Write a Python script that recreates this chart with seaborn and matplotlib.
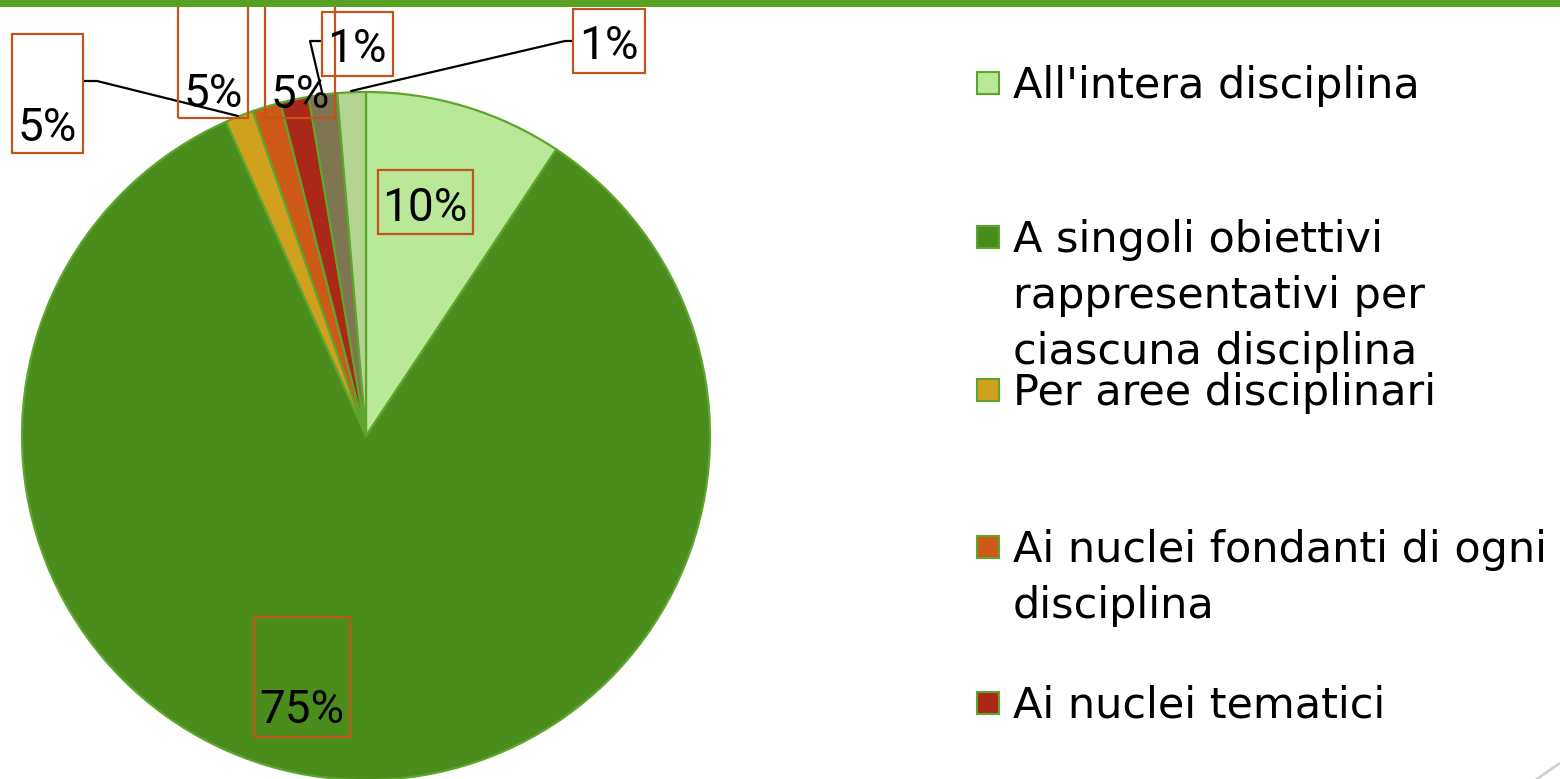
import matplotlib
matplotlib.use("Agg")
import matplotlib.pyplot as plt
from matplotlib.patches import Rectangle
from matplotlib.lines import Line2D
import seaborn as sns

# ---- data ----
categories = [
    "All'intera disciplina",
    "A singoli obiettivi\nrappresentativi per\nciascuna disciplina",
    "Per aree disciplinari",
    "Ai nuclei fondanti di ogni\ndisciplina",
    "Ai nuclei tematici",
    "",
    "",
]
values = [7, 63, 1, 1, 1, 1, 1]
pct_labels = ["10%", "75%", "5%", "5%", "5%", "1%", "1%"]
legend_count = 5  # entries visible in the (cropped) legend

# ---- style ----
sns.set_theme(style="white")
plt.rcParams['font.family'] = ['DejaVu Sans']
colors = sns.color_palette(["#B9E898", "#4B8D1D", "#CFA11C", "#CF5916",
                            "#AB2819", "#7F7550", "#B4D592"])
edge_col = "#5EA52E"
box_col = "#C0561E"

W, H = 1560, 779
fig = plt.figure(figsize=(W / 100, H / 100), dpi=100)

# pie geometry in pixels
cx, cy, R = 366, 436, 344
ax = fig.add_axes([(cx - R) / W, (H - (cy + R)) / H, 2 * R / W, 2 * R / H])
ax.pie(values, colors=colors, startangle=90, counterclock=False, radius=1,
       wedgeprops=dict(edgecolor=edge_col, linewidth=1.6))
ax.set_xlim(-1, 1)
ax.set_ylim(-1, 1)
ax.set_aspect("auto")
ax.axis("off")


def p2d(px, py):
    return (px - cx) / R, (cy - py) / R


# label boxes (pixel layout): x0, x1, y0, y1, text x, text baseline y
label_layout = [
    (378, 473, 170, 234, 425, 221),
    (254, 350, 617, 737, 302, 723),
    (12, 83, 34, 153, 47, 141),
    (178, 248, -5, 118, 213, 107),
    (265, 335, -5, 118, 300, 108),
    (322, 393, 12, 76, 357, 62),
    (573, 645, 9, 73, 609, 59),
]
label_font = ['Roboto', 'DejaVu Sans']
for lab, (x0, x1, y0, y1, tx, ty) in zip(pct_labels, label_layout):
    dx0, dy1 = p2d(x0, y1)
    dx1, dy0 = p2d(x1, y0)
    ax.add_patch(Rectangle((dx0, dy1), dx1 - dx0, dy0 - dy1, fill=False,
                           edgecolor=box_col, linewidth=1.6, clip_on=False,
                           zorder=5))
    tx_d, ty_d = p2d(tx, ty)
    ax.text(tx_d, ty_d, lab, ha="center", va="baseline", fontsize=33,
            family=label_font, color="black", clip_on=False, zorder=6)

# leader lines (pixel layout)
leaders = [
    [(83, 81), (97, 81), (238, 116)],
    [(322, 41), (310, 41), (322, 92)],
    [(573, 41), (565, 41), (351, 91)],
]
for pts in leaders:
    xs, ys = zip(*[p2d(px, py) for px, py in pts])
    ax.plot(xs, ys, color="black", linewidth=1.6, clip_on=False, zorder=4)

# legend (manual, matching the cropped Excel layout)
legend_baselines = [98, 252, 405, 562, 718]
line_step = 56
sq = 22
for i in range(legend_count):
    base = legend_baselines[i]
    mc = base - 15
    fig.patches.append(Rectangle((977 / W, (H - (mc + sq / 2)) / H), sq / W, sq / H,
                                 transform=fig.transFigure, facecolor=colors[i],
                                 edgecolor=edge_col, linewidth=1.5))
    for k, line in enumerate(categories[i].split("\n")):
        fig.text(1013 / W, (H - (base + k * line_step)) / H, line, ha="left",
                 va="baseline", fontsize=31, color="black")

# top green band and decorative line
fig.patches.append(Rectangle((0, (H - 7) / H), 1, 7 / H, transform=fig.transFigure,
                             facecolor="#56A022", edgecolor="none"))
fig.lines.append(Line2D([1537 / W, 1.0], [0, (H - 763) / H], transform=fig.transFigure,
                        color="#D0D0D0", linewidth=2))

fig.savefig("out.png", dpi=100)
